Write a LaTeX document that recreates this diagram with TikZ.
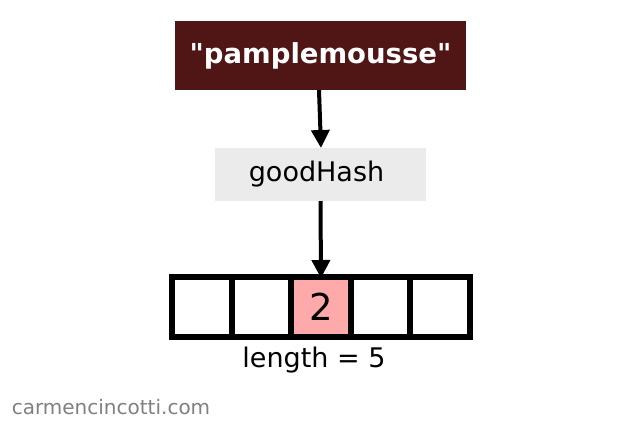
\documentclass[tikz,border=0pt]{standalone}
\usepackage{fontspec}
\setmainfont{DejaVu Sans}
\usetikzlibrary{arrows.meta}
\definecolor{srcred}{HTML}{501515}
\definecolor{hashgray}{HTML}{EBEBEB}
\definecolor{cellpink}{HTML}{FFAAAA}
\definecolor{markgray}{HTML}{808080}
\begin{document}
\begin{tikzpicture}[x=1pt,y=-1pt,
  cellbox/.style={draw=black, line width=6pt, minimum width=59.6pt, minimum height=60pt, inner sep=0pt, outer sep=0pt},
  flowarrow/.style={line width=4pt, -{Triangle[length=18pt,width=18pt]}}]
\useasboundingbox (0,0) rectangle (644,429);
\node[fill=srcred, minimum width=291pt, minimum height=69pt, inner sep=0pt, outer sep=0pt,
      text=white, font=\bfseries\fontsize{27.5}{30}\selectfont] (src) at (320.5,55.5) {\textquotedbl pamplemousse\textquotedbl};
\node[fill=hashgray, minimum width=211pt, minimum height=53pt, inner sep=0pt, outer sep=0pt,
      font=\fontsize{27}{30}\selectfont] (hash) at (320.5,174.5) {goodHash\hspace*{8pt}};
\node[cellbox] (c0) at (201.8,307) {};
\node[cellbox] (c1) at (261.4,307) {};
\node[cellbox, fill=cellpink, font=\fontsize{37}{40}\selectfont] (c2) at (321,307) {2};
\node[cellbox] (c3) at (380.6,307) {};
\node[cellbox] (c4) at (440.2,307) {};
\node[font=\fontsize{27}{30}\selectfont] (len) at (314,360) {length = 5};
\node[text=markgray, font=\fontsize{20}{24}\selectfont] (mark) at (111,407) {carmencincotti.com};
\draw[flowarrow] ([xshift=-1.5pt]src.south) -- ([xshift=0.5pt]hash.north);
\draw[flowarrow, shorten >=2pt] (hash.south) -- ([yshift=-3pt]c2.north);
\end{tikzpicture}
\end{document}
